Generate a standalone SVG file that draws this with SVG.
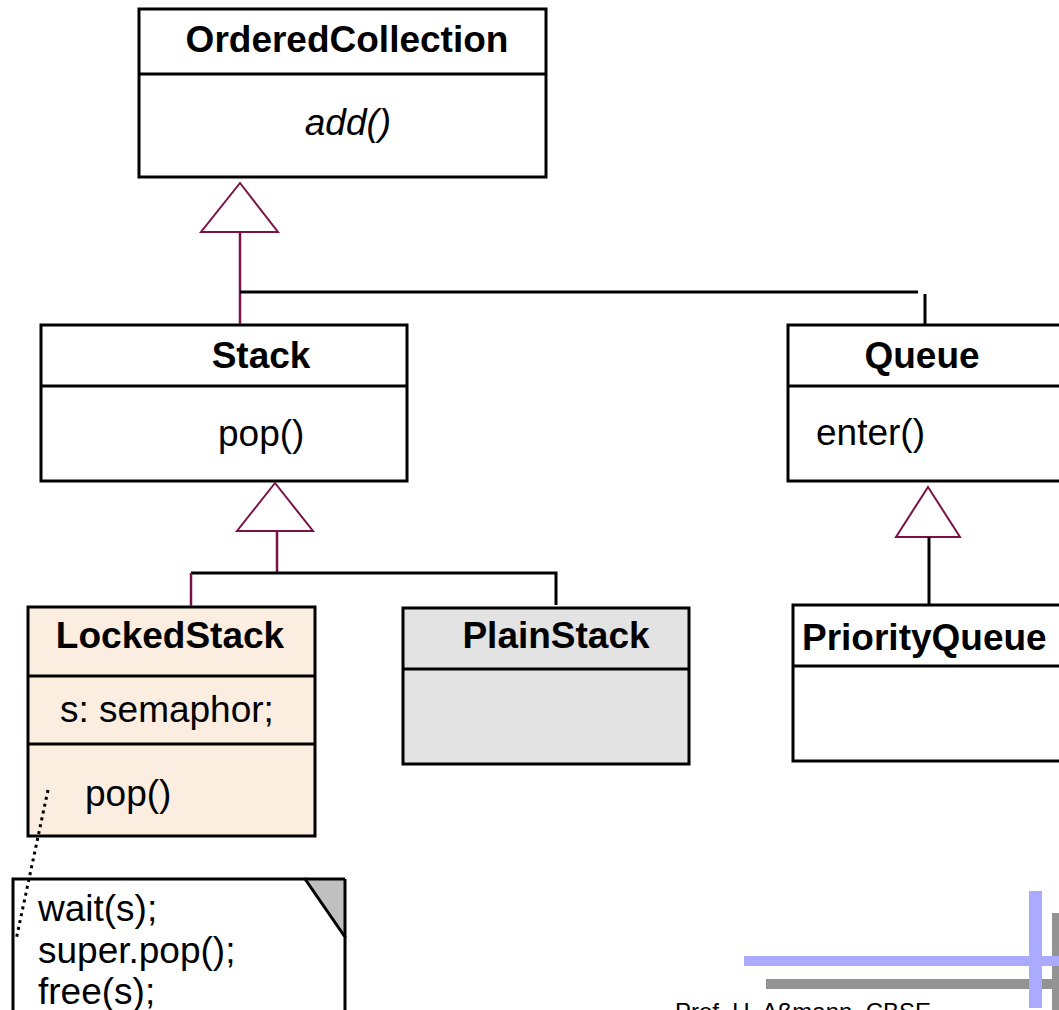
<svg xmlns="http://www.w3.org/2000/svg" width="1059" height="1010" viewBox="0 0 1059 1010">
<style>
.box{stroke:#000;stroke-width:3;fill:#fff}
.div{stroke:#000;stroke-width:3}
.t{font-family:"Liberation Sans",Arial,sans-serif;font-size:37px;fill:#000}
.b{font-weight:bold}
.tri{fill:#fff;stroke:#7a1248;stroke-width:2}
.m{stroke:#7a1248;stroke-width:2.5;fill:none}
.k{stroke:#000;stroke-width:3;fill:none}
</style>
<rect width="1059" height="1010" fill="#fff"/>
<g id="OrderedCollection">
<rect class="box" x="139" y="9" width="407" height="168"/>
<line class="div" x1="139" y1="74" x2="547" y2="74"/>
<text class="t b" x="347" y="52" text-anchor="middle">OrderedCollection</text>
<text class="t" x="348" y="135" text-anchor="middle" font-style="italic">add()</text>
</g>
<g id="Stack">
<rect class="box" x="41" y="325" width="366" height="156"/>
<line class="div" x1="41" y1="386" x2="407" y2="386"/>
<text class="t b" x="261" y="368" text-anchor="middle">Stack</text>
<text class="t" x="218" y="446">pop()</text>
</g>
<g id="Queue">
<rect class="box" x="788" y="325" width="280" height="156"/>
<line class="div" x1="788" y1="386" x2="1059" y2="386"/>
<text class="t b" x="922" y="368" text-anchor="middle">Queue</text>
<text class="t" x="816" y="445">enter()</text>
</g>
<g id="LockedStack">
<rect class="box" x="28" y="607" width="287" height="229" style="fill:#fbede0"/>
<line class="div" x1="28" y1="676" x2="315" y2="676"/>
<line class="div" x1="28" y1="744" x2="315" y2="744"/>
<text class="t b" x="170" y="648" text-anchor="middle">LockedStack</text>
<text class="t" x="60" y="722">s: semaphor;</text>
<text class="t" x="85" y="806">pop()</text>
</g>
<g id="PlainStack">
<rect class="box" x="403" y="608" width="286" height="156" style="fill:#e3e3e3"/>
<line class="div" x1="403" y1="669" x2="689" y2="669"/>
<text class="t b" x="556" y="648" text-anchor="middle">PlainStack</text>
</g>
<g id="PriorityQueue">
<rect class="box" x="793" y="605" width="280" height="156"/>
<line class="div" x1="793" y1="666" x2="1059" y2="666"/>
<text class="t b" x="802" y="650">PriorityQueue</text>
</g>
<g id="Note">
<polygon points="305,879 345,879 345,937" fill="#c0c0c0"/>
<path d="M13,1015 L13,879 L305,879 L345,937 L345,1015" fill="#fff" stroke="#000" stroke-width="3"/>
<line x1="305" y1="879" x2="345" y2="879" stroke="#000" stroke-width="3"/>
<line x1="345" y1="879" x2="345" y2="937" stroke="#000" stroke-width="3"/>
<text class="t" x="38" y="921">wait(s);</text>
<text class="t" x="38" y="963">super.pop();</text>
<text class="t" x="38" y="1004">free(s);</text>
</g>
<g id="connectors">
<polygon class="tri" points="240,183 201,232 278,232"/>
<line class="m" x1="240" y1="232" x2="240" y2="324"/>
<line class="k" x1="240" y1="292" x2="918" y2="292"/>
<line class="k" x1="925" y1="294" x2="925" y2="325"/>
<polygon class="tri" points="275,483 237,531 313,531"/>
<line class="m" x1="277" y1="531" x2="277" y2="572"/>
<polyline class="k" points="191,573 556,573 556,605"/>
<line class="m" x1="191" y1="573" x2="191" y2="606"/>
<polygon class="tri" points="928,487 896,537 960,537"/>
<line class="k" x1="929" y1="537" x2="929" y2="604"/>
<line x1="48" y1="790" x2="16" y2="940" stroke="#000" stroke-width="3" stroke-dasharray="3,4"/>
</g>
<g id="footer">
<rect x="1052" y="913" width="10" height="100" fill="#939393"/>
<rect x="766" y="979" width="300" height="10" fill="#939393"/>
<rect x="1029" y="891" width="13" height="117" fill="#aaaaff"/>
<rect x="744" y="956" width="320" height="10" fill="#aaaaff"/>
<text x="675" y="1020" font-family="Liberation Sans,Arial,sans-serif" font-size="24" fill="#000">Prof. U. Aßmann, CBSE</text>
</g>
</svg>
